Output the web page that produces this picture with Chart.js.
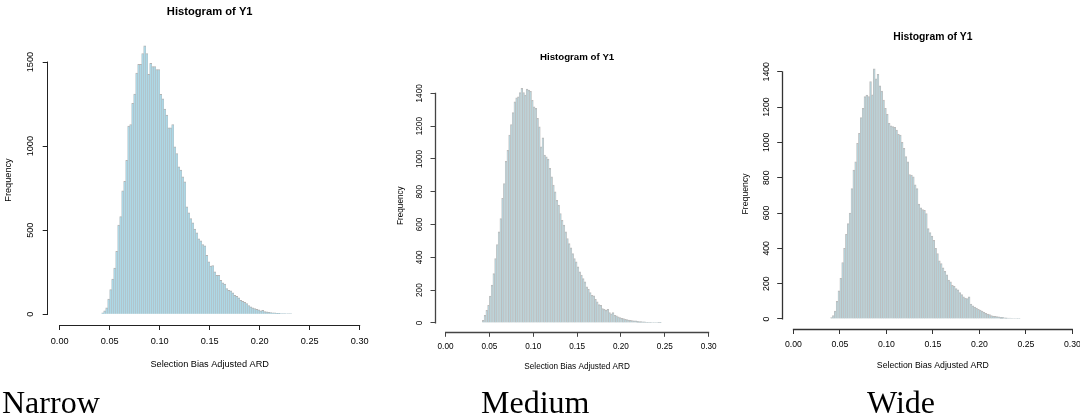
<!DOCTYPE html>
<html>
<head>
<meta charset="utf-8">
<script src="https://cdn.jsdelivr.net/npm/chart.js@4.4.1/dist/chart.umd.min.js"></script>
<style>
  html, body { margin: 0; padding: 0; background: #fff; overflow: hidden; }
  body { width: 1080px; height: 417px; position: relative; }
  canvas { position: absolute; left: 0; top: 0; }
  .caption {
    position: absolute; top: 386px;
    font-family: "Liberation Serif", "Times New Roman", serif;
    font-size: 32px; line-height: 1; color: #000; white-space: nowrap;
  }
</style>
</head>
<body>
<canvas id="narrow" width="1100" height="417" style="width:1100px;height:417px"></canvas>
<canvas id="medium" width="1100" height="417" style="width:1100px;height:417px"></canvas>
<canvas id="wide" width="1100" height="417" style="width:1100px;height:417px"></canvas>
<div class="caption" style="left:2px">Narrow</div>
<div class="caption" style="left:481px">Medium</div>
<div class="caption" style="left:867px">Wide</div>
<script>
// hist() breaks are 0.002 apart; each panel lists its counts from the first break
const binWidth = 0.002;

const narrowStart = 0.042;
const narrowCounts = [
  8, 20, 38, 90, 147, 210, 274, 375, 530, 581,
  734, 790, 915, 1119, 1129, 1254, 1310, 1435, 1486, 1486,
  1551, 1597, 1551, 1427, 1492, 1474, 1474, 1456, 1456, 1308,
  1282, 1220, 1185, 1109, 1109, 1129, 996, 956, 877, 857,
  817, 788, 639, 603, 569, 544, 506, 484, 448, 437,
  415, 407, 351, 312, 286, 290, 252, 232, 232, 202,
  187, 179, 153, 143, 139, 127, 113, 107, 97, 83,
  77, 71, 63, 52, 44, 38, 34, 30, 26, 20,
  24, 16, 14, 12, 10, 8, 8, 6, 6, 4,
  4, 4, 3, 2, 2
];

const mediumStart = 0.042;
const mediumCounts = [
  16, 47, 77, 108, 163, 230, 301, 392, 478, 555,
  637, 759, 850, 986, 1053, 1145, 1210, 1283, 1348, 1373,
  1379, 1405, 1430, 1405, 1389, 1426, 1420, 1413, 1358, 1318,
  1308, 1247, 1196, 1074, 1129, 1023, 1013, 999, 942, 891,
  840, 799, 748, 718, 667, 626, 596, 555, 515, 484,
  458, 423, 392, 372, 342, 311, 291, 270, 250, 220,
  205, 185, 169, 165, 144, 128, 112, 108, 87, 83,
  77, 83, 63, 55, 63, 47, 43, 37, 33, 28,
  26, 22, 20, 18, 16, 14, 12, 12, 10, 8,
  8, 6, 6, 4, 4, 4, 2, 3, 2, 2,
  1, 1
];

const wideStart = 0.040;
const wideCounts = [
  8, 20, 45, 100, 160, 230, 320, 400, 480, 540,
  600, 739, 843, 890, 994, 1051, 1140, 1193, 1259, 1268,
  1260, 1344, 1270, 1416, 1360, 1386, 1320, 1290, 1240, 1193,
  1159, 1108, 1094, 1090, 1085, 1070, 1045, 1041, 1000, 966,
  920, 890, 818, 815, 805, 760, 739, 650, 630, 620,
  616, 597, 512, 490, 470, 446, 400, 370, 330, 314,
  290, 270, 250, 220, 210, 190, 185, 172, 165, 150,
  138, 125, 118, 115, 125, 85, 75, 68, 62, 55,
  50, 45, 38, 32, 28, 25, 20, 17, 15, 13,
  12, 10, 9, 7, 6, 5, 5, 4, 3, 3,
  2, 2
];

const xTicks = [0.00, 0.05, 0.10, 0.15, 0.20, 0.25, 0.30];
const narrowYTicks = [0, 500, 1000, 1500];
const mediumYTicks = [0, 200, 400, 600, 800, 1000, 1200, 1400];
const wideYTicks = [0, 200, 400, 600, 800, 1000, 1200, 1400];

const mainTitle = 'Histogram of Y1';
const xTitle = 'Selection Bias Adjusted ARD';
const yTitle = 'Frequency';

const FONT = '"Liberation Sans", Arial, Helvetica, sans-serif';

function binPoints(start, counts) {
  return counts.map((c, i) => ({ x: start + binWidth * (i + 0.5), y: c }));
}

// base R axes only run from the first tick to the last one
const rAxisLines = {
  id: 'rAxisLines',
  afterDraw(chart, args, opts) {
    const { ctx, chartArea, scales } = chart;
    const xs = scales.x, ys = scales.y;
    const xt = xs.ticks, yt = ys.ticks;
    const snap = v => Math.round(v - 0.5) + 0.5;
    ctx.save();
    ctx.strokeStyle = opts.color;
    ctx.lineWidth = opts.width;
    ctx.beginPath();
    const yb = snap(chartArea.bottom);
    ctx.moveTo(xs.getPixelForValue(xt[0].value) - 0.5, yb);
    ctx.lineTo(xs.getPixelForValue(xt[xt.length - 1].value) + 0.5, yb);
    const xl = snap(chartArea.left);
    ctx.moveTo(xl, ys.getPixelForValue(yt[0].value) + 0.5);
    ctx.lineTo(xl, ys.getPixelForValue(yt[yt.length - 1].value) - 0.5);
    ctx.stroke();
    ctx.restore();
  }
};

function makeHist(id, start, counts, yTicks, g) {
  const top = Math.max(...counts);
  return new Chart(document.getElementById(id), {
    type: 'bar',
    data: {
      datasets: [{
        data: binPoints(start, counts),
        backgroundColor: g.fill,
        borderColor: g.edge,
        borderWidth: { top: 1, left: g.edgeW, right: g.edgeW, bottom: 0 },
        borderSkipped: false,
        barPercentage: 1,
        categoryPercentage: 1
      }]
    },
    options: {
      responsive: false,
      animation: false,
      events: [],
      layout: { padding: g.pad },
      plugins: {
        legend: { display: false },
        tooltip: { enabled: false },
        title: {
          display: true,
          text: mainTitle,
          fullSize: false,
          color: '#000',
          font: { family: FONT, size: g.titleSize, weight: 'bold', lineHeight: 1.2 },
          padding: { top: 0, bottom: g.titleGap }
        },
        rAxisLines: { color: g.axisColor, width: g.axisWidth }
      },
      scales: {
        x: {
          type: 'linear',
          min: -0.012,
          max: 0.312,
          bounds: 'data',
          offset: false,
          afterBuildTicks: s => { s.ticks = xTicks.map(v => ({ value: v })); },
          afterFit: s => { s.height = g.xH; },
          border: { display: false },
          grid: { display: true, offset: false, drawOnChartArea: false, drawTicks: true,
                  tickLength: g.tickLen, tickColor: g.axisColor, tickWidth: 1 },
          ticks: {
            autoSkip: false, maxRotation: 0, minRotation: 0, padding: g.xTickPad,
            color: '#000', font: { family: FONT, size: g.fontSize },
            callback: v => Number(v).toFixed(2)
          },
          title: { display: true, text: xTitle, color: '#000', padding: 0,
                   font: { family: FONT, size: g.fontSize, lineHeight: 1.2 } }
        },
        y: {
          type: 'linear',
          min: -0.04 * top,
          max: 1.04 * top,
          bounds: 'data',
          afterBuildTicks: s => { s.ticks = yTicks.map(v => ({ value: v })); },
          afterFit: s => { s.width = g.yW; },
          border: { display: false },
          grid: { display: true, drawOnChartArea: false, drawTicks: true,
                  tickLength: g.tickLen, tickColor: g.axisColor, tickWidth: 1 },
          ticks: {
            autoSkip: false, minRotation: 90, maxRotation: 90, crossAlign: 'center',
            padding: g.yTickPad, color: '#000', font: { family: FONT, size: g.fontSize },
            callback: v => String(v)
          },
          title: { display: true, text: yTitle, color: '#000', padding: 0,
                   font: { family: FONT, size: g.fontSize, lineHeight: 1.2 } }
        }
      }
    },
    plugins: [rAxisLines]
  });
}

makeHist('narrow', narrowStart, narrowCounts, narrowYTicks, {
  pad: { left: 2.7, right: 728.3, top: 5.6, bottom: 47.1 },
  yW: 45, xH: 44.9, titleSize: 11.2, titleGap: 16, fontSize: 9.2,
  tickLen: 5, yTickPad: 1.7, xTickPad: 6.2,
  fill: '#add8e6', edge: '#b4b4b4', edgeW: 0.35,
  axisColor: '#222', axisWidth: 1
});

makeHist('medium', mediumStart, mediumCounts, mediumYTicks, {
  pad: { left: 395.8, right: 380.8, top: 51.5, bottom: 45.4 },
  yW: 39.2, xH: 39.3, titleSize: 9.7, titleGap: 15.9, fontSize: 8.2,
  tickLen: 4.5, yTickPad: 1.4, xTickPad: 5,
  fill: '#b4d2da', edge: '#bcbcbc', edgeW: 0.75,
  axisColor: '#444', axisWidth: 1.3
});

makeHist('wide', wideStart, wideCounts, wideYTicks, {
  pad: { left: 740.8, right: 16.5, top: 31.1, bottom: 46.1 },
  yW: 41.4, xH: 41.9, titleSize: 10.35, titleGap: 15.4, fontSize: 8.7,
  tickLen: 5, yTickPad: 0.8, xTickPad: 5.8,
  fill: '#b4d2da', edge: '#bcbcbc', edgeW: 0.75,
  axisColor: '#333', axisWidth: 1.3
});
</script>
</body>
</html>
